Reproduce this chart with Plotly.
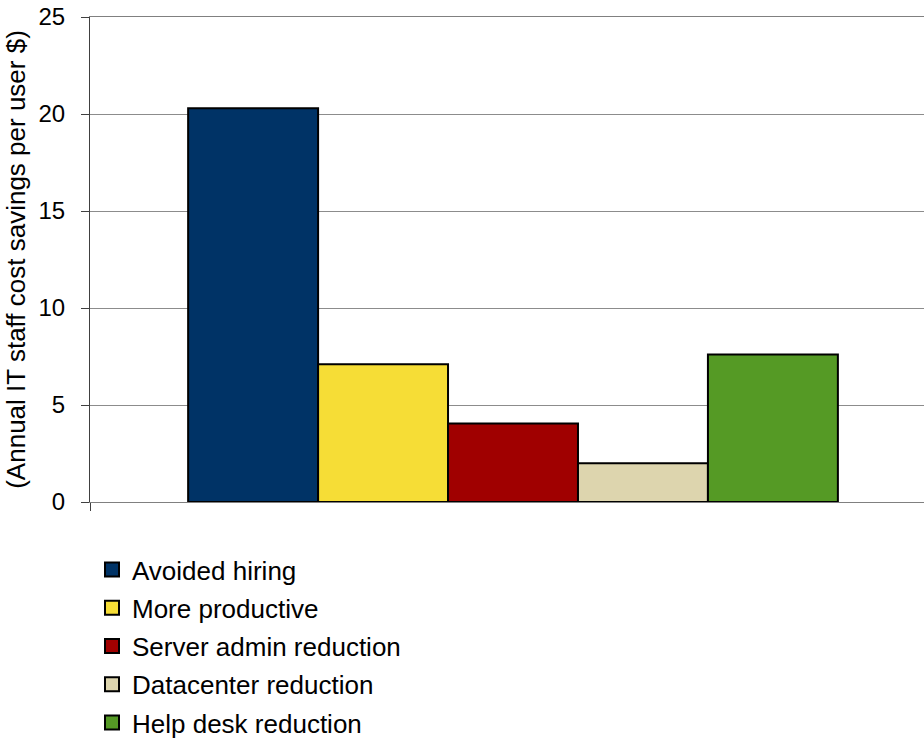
import plotly.graph_objects as go

categories = ["Avoided hiring", "More productive", "Server admin reduction",
              "Datacenter reduction", "Help desk reduction"]
values = [20.3, 7.1, 4.05, 2.0, 7.6]
colors = ["#003366", "#F6DD36", "#A00000", "#DDD5AE", "#559A25"]
y_title = "(Annual IT staff cost savings per user $)"
y_ticks = [0, 5, 10, 15, 20, 25]

FONT = "Liberation Sans, Arial, sans-serif"
FS = 26

fig = go.Figure()
for name, v, c in zip(categories, values, colors):
    fig.add_trace(go.Bar(
        x=[""], y=[v], name=name, legendgroup=name, showlegend=False,
        marker=dict(color=c, line=dict(color="#000000", width=2)),
    ))
# legend entries with larger square swatches
for name, c in zip(categories, colors):
    fig.add_trace(go.Scatter(
        x=[None], y=[None], mode="markers", name=name, legendgroup=name,
        marker=dict(symbol="square", size=14, color=c,
                    line=dict(color="#000000", width=2)),
    ))

fig.update_layout(
    width=924, height=780,
    margin=dict(l=90, r=0, t=17, b=278),
    paper_bgcolor="white", plot_bgcolor="white",
    barmode="group", bargap=0.232, bargroupgap=0,
    font=dict(family=FONT, size=FS, color="#000000"),
    showlegend=True,
    legend=dict(
        orientation="v", x=0.0024, xanchor="left", y=-0.0907, yanchor="top",
        xref="paper", yref="paper",
        font=dict(family=FONT, size=FS, color="#000000"),
        tracegroupgap=1.5, itemwidth=30, itemsizing="trace", traceorder="grouped",
        bgcolor="rgba(0,0,0,0)",
    ),
    xaxis=dict(
        type="category", range=[-0.5, 0.4858], automargin=False,
        showline=True, linecolor="#808080", linewidth=1, mirror=True,
        ticks="outside", tickson="boundaries", ticklen=8, tickcolor="#404040",
        showticklabels=False, showgrid=False, zeroline=False, fixedrange=True,
    ),
    yaxis=dict(
        range=[0, 25], tickvals=y_ticks, ticktext=[str(t) for t in y_ticks],
        automargin=False, ticklabeloverflow="allow", ticklabelstandoff=11,
        showline=True, linecolor="#404040", linewidth=1,
        ticks="outside", ticklen=8, tickcolor="#404040",
        showgrid=True, gridcolor="#8C8C8C", gridwidth=1,
        zeroline=True, zerolinecolor="#404040", zerolinewidth=1,
        tickfont=dict(family=FONT, size=24),
        title=dict(text=y_title, font=dict(family=FONT, size=26), standoff=5),
        fixedrange=True,
    ),
)

fig.write_html("out.html", config={"displayModeBar": False},
               post_script="document.body.style.margin='0';")
